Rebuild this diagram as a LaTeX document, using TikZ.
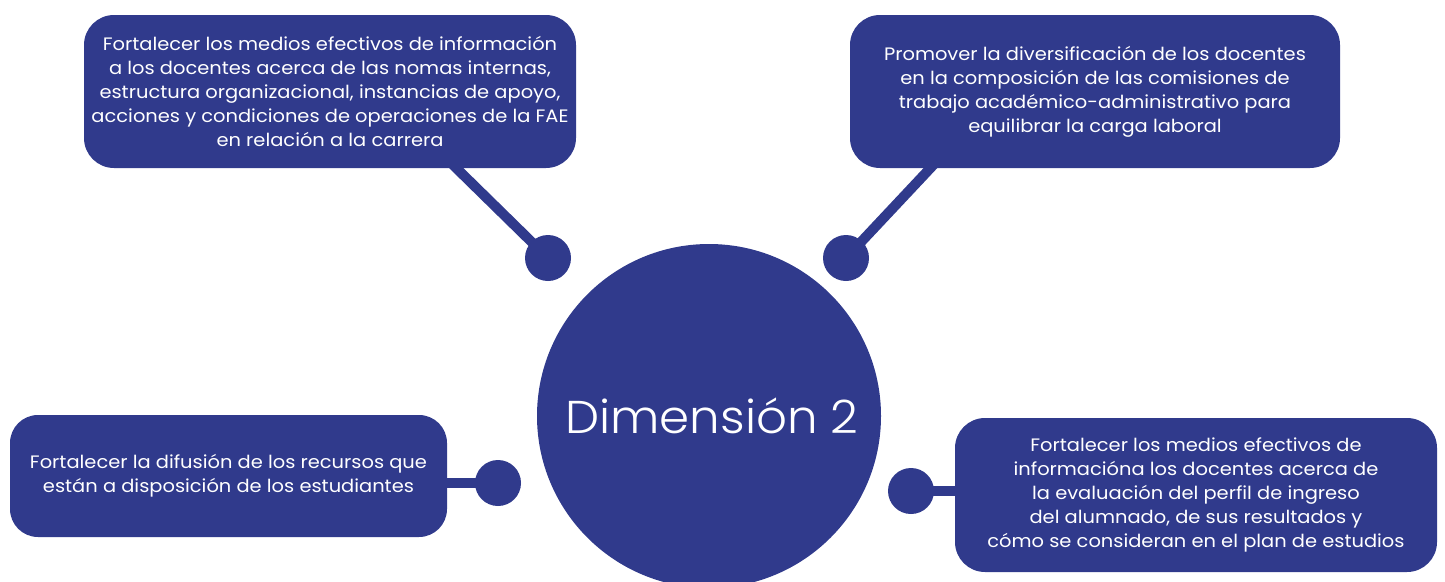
\documentclass[tikz,border=0pt]{standalone}
\usepackage{fontspec}
\setmainfont{Poppins}[FakeStretch=1.08]
\newfontfamily\hubfont{Poppins Light}[FakeStretch=1.05]
\usepackage{tikz}
\usetikzlibrary{calc}
\definecolor{dimblue}{RGB}{48,58,140}

\tikzset{
    goalbox/.style={fill=dimblue, text=white, rounded corners=30pt,
        align=center, inner sep=0pt, font=\fontsize{18}{24}\selectfont},
    dot/.style={circle, fill=dimblue, minimum size=46pt, inner sep=0pt},
    link/.style={draw=dimblue, line width=10pt},
}

\begin{document}
\begin{tikzpicture}[x=1pt, y=-1pt]
        \useasboundingbox (0,0) rectangle (1445,581);

        \node[circle, fill=dimblue, minimum size=344pt, inner sep=0pt,
        text=white, font=\hubfont\fontsize{46}{50}\selectfont] (hub) at
        (709,416) {\hspace{6pt}Dimensión 2};

        \node[dot] (dot1) at (548,258) {}; \node[dot] (dot2) at (846,258) {};
        \node[dot] (dot3) at (498,483) {}; \node[dot] (dot4) at (911,491) {};

        \coordinate (k1) at (448,160); \coordinate (k2) at (938,160);
        \draw[link] (dot1.center) -- (k1); \draw[link] (dot2.center) -- (k2);

        \node[goalbox, minimum width=492pt, minimum height=153pt] (goal1) at
        (330,91.5) {Fortalecer los medios efectivos de información\\a los
        docentes acerca de las nomas internas,\\estructura organizacional,
        instancias de apoyo,\\acciones y condiciones de operaciones de la
        FAE\\en relación a la carrera};

        \node[goalbox, minimum width=490pt, minimum height=153pt] (goal2) at
        (1095,91.5) {Promover la diversificación de los docentes\\en la
        composición de las comisiones de\\trabajo académico-administrativo
        para\\equilibrar la carga laboral};

        \node[goalbox, rounded corners=28pt, minimum width=437pt, minimum
        height=122pt] (goal3) at (228.5,476) {Fortalecer la difusión de los
        recursos que\\están a disposición de los estudiantes};

        \node[goalbox, minimum width=482pt, minimum height=154pt] (goal4) at
        (1196,495) {Fortalecer los medios efectivos de\\informacióna los
        docentes acerca de\\la evaluación del perfil de ingreso\\del
        alumnado, de sus resultados y\\cómo se consideran en el plan de
        estudios};

        \draw[link] (dot3.center) -- (dot3 -| goal3.east);
        \draw[link] (dot4.center) -- (dot4 -| goal4.west);
    \end{tikzpicture}
\end{document}
